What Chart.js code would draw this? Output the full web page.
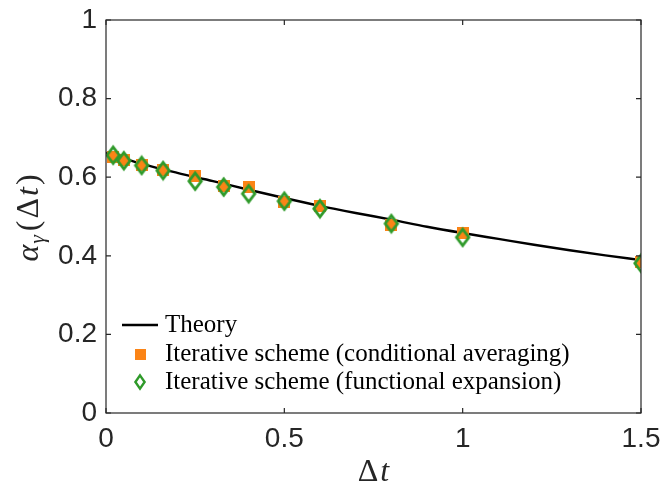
<!DOCTYPE html>
<html>
<head>
<meta charset="utf-8">
<script src="https://cdn.jsdelivr.net/npm/chart.js@4.4.1/dist/chart.umd.min.js"></script>
<style>
  html, body { margin: 0; padding: 0; background: #fff; }
  #wrap { width: 662px; height: 491px; }
</style>
</head>
<body>
<div id="wrap"><canvas id="grafico" width="662" height="491"></canvas></div>
<script>
// theory curve
const theoryX = [0, 0.1, 0.2, 0.3, 0.4, 0.5, 0.6, 0.7, 0.8, 0.9, 1.0, 1.1, 1.2, 1.3, 1.4, 1.5];
const theoryY = [0.662, 0.634, 0.611, 0.590, 0.568, 0.547, 0.527, 0.509, 0.492, 0.474, 0.458, 0.443, 0.428, 0.414, 0.401, 0.389];

// simulated points
const dtValues = [0.02, 0.05, 0.1, 0.16, 0.25, 0.33, 0.4, 0.5, 0.6, 0.8, 1.0, 1.5];
const condAveraging = [0.652, 0.643, 0.630, 0.618, 0.603, 0.577, 0.575, 0.536, 0.526, 0.479, 0.457, 0.383];
const funcExpansion = [0.656, 0.642, 0.630, 0.617, 0.590, 0.575, 0.558, 0.539, 0.520, 0.482, 0.447, 0.381];

const legendLabels = ['Theory', 'Iterative scheme (conditional averaging)', 'Iterative scheme (functional expansion)'];
const xTicks = [0, 0.5, 1, 1.5];
const yTicks = [0, 0.2, 0.4, 0.6, 0.8, 1];

const eixo = '#262626';
const laranja = '#fb8416';
const verde = '#2f9a2a';

function pares(xs, ys) {
    return xs.map((x, i) => ({ x: x, y: ys[i] }));
}

// marker images (matlab diamond is taller than wide)
function losango(w, h, cor, lw) {
    const c = document.createElement('canvas');
    c.width = w; c.height = h;
    const g = c.getContext('2d');
    g.strokeStyle = cor;
    g.lineWidth = lw;
    g.lineJoin = 'miter';
    const m = lw;
    g.beginPath();
    g.moveTo(w / 2, m);
    g.lineTo(w - m, h / 2);
    g.lineTo(w / 2, h - m);
    g.lineTo(m, h / 2);
    g.closePath();
    g.stroke();
    return c;
}
function quadrado(s, cor) {
    const c = document.createElement('canvas');
    c.width = s; c.height = s;
    const g = c.getContext('2d');
    g.fillStyle = cor;
    g.fillRect(0, 0, s, s);
    return c;
}
const marcaVerde = losango(18, 22, verde, 2.8);
const marcaLaranja = quadrado(12, laranja);
const legVerde = losango(14, 18, verde, 2.4);
const legLaranja = quadrado(11, laranja);

// box, inward ticks, titles, legend
const extras = {
    id: 'extras',
    afterDraw(chart) {
        const ctx = chart.ctx;
        const a = chart.chartArea;
        const sx = chart.scales.x, sy = chart.scales.y;
        ctx.save();
        ctx.strokeStyle = eixo;
        ctx.lineWidth = 1.2;
        ctx.strokeRect(a.left, a.top, a.right - a.left, a.bottom - a.top);
        ctx.beginPath();
        xTicks.forEach(v => {
            const px = sx.getPixelForValue(v);
            ctx.moveTo(px, a.bottom); ctx.lineTo(px, a.bottom - 5);
            ctx.moveTo(px, a.top); ctx.lineTo(px, a.top + 5);
        });
        yTicks.forEach(v => {
            const py = sy.getPixelForValue(v);
            ctx.moveTo(a.left, py); ctx.lineTo(a.left + 5, py);
            ctx.moveTo(a.right, py); ctx.lineTo(a.right - 5, py);
        });
        ctx.stroke();

        // x title: Δt
        ctx.fillStyle = eixo;
        ctx.textBaseline = 'alphabetic';
        ctx.textAlign = 'left';
        const cx = (a.left + a.right) / 2;
        ctx.font = '32px "Liberation Serif"';
        const wD = ctx.measureText('\u0394').width;
        ctx.font = 'italic 32px "Liberation Serif"';
        const wt = ctx.measureText('t').width;
        const x0 = cx - (wD + wt + 2) / 2;
        ctx.font = '32px "Liberation Serif"';
        ctx.fillText('\u0394', x0, 481);
        ctx.font = 'italic 32px "Liberation Serif"';
        ctx.fillText('t', x0 + wD + 2, 481);

        // y title: α_γ(Δt)
        ctx.save();
        ctx.translate(38, 218);
        ctx.rotate(-Math.PI / 2);
        const partes = [
            { t: '\u03b1', f: 'italic 32px "Liberation Serif"', dy: 0, gap: 1 },
            { t: '\u03b3', f: 'italic 22px "Liberation Serif"', dy: 6, gap: 4 },
            { t: '(', f: '32px "Liberation Serif"', dy: 0, gap: 2 },
            { t: '\u0394', f: '32px "Liberation Serif"', dy: 0, gap: 2 },
            { t: 't', f: 'italic 32px "Liberation Serif"', dy: 0, gap: 2 },
            { t: ')', f: '32px "Liberation Serif"', dy: 0, gap: 0 }
        ];
        let total = 0;
        partes.forEach(p => { ctx.font = p.f; p.w = ctx.measureText(p.t).width + p.gap; total += p.w; });
        let px = -total / 2;
        partes.forEach(p => { ctx.font = p.f; ctx.fillText(p.t, px, p.dy); px += p.w; });
        ctx.restore();

        // legend inside plot, bottom-left
        ctx.font = '25px "Liberation Serif"';
        ctx.textBaseline = 'middle';
        const linhas = [325, 354, 382];
        const xs = 122, xt = 165;
        ctx.fillStyle = '#000';
        ctx.fillText(legendLabels[0], xt, linhas[0]);
        ctx.strokeStyle = '#000';
        ctx.lineWidth = 2.4;
        ctx.beginPath(); ctx.moveTo(xs, linhas[0]); ctx.lineTo(xs + 36, linhas[0]); ctx.stroke();

        ctx.drawImage(legLaranja, xs + 13, linhas[1] - 5);
        ctx.fillText(legendLabels[1], xt, linhas[1]);

        ctx.drawImage(legVerde, xs + 11, linhas[2] - 9);
        ctx.fillText(legendLabels[2], xt, linhas[2]);
        ctx.restore();
    }
};

new Chart(document.getElementById('grafico').getContext('2d'), {
    type: 'scatter',
    data: {
        datasets: [
            {
                label: legendLabels[2],
                data: pares(dtValues, funcExpansion),
                pointStyle: marcaVerde,
                order: 1
            },
            {
                label: legendLabels[1],
                data: pares(dtValues, condAveraging),
                pointStyle: marcaLaranja,
                order: 2
            },
            {
                label: legendLabels[0],
                data: pares(theoryX, theoryY),
                showLine: true,
                borderColor: '#000',
                borderWidth: 2.4,
                pointRadius: 0,
                cubicInterpolationMode: 'monotone',
                order: 3
            }
        ]
    },
    options: {
        responsive: false,
        animation: false,
        layout: { padding: { top: 20, right: 21, left: 0, bottom: 0 } },
        plugins: {
            legend: { display: false },
            tooltip: { enabled: false }
        },
        scales: {
            x: {
                type: 'linear',
                min: 0, max: 1.5,
                afterFit: s => { s.height = 78; s.paddingLeft = 0; s.paddingRight = 0; },
                afterBuildTicks: s => { s.ticks = xTicks.map(v => ({ value: v })); },
                grid: { display: false, drawTicks: false },
                border: { display: false },
                ticks: {
                    padding: 9,
                    maxRotation: 0,
                    autoSkip: false,
                    color: eixo,
                    font: { family: '"Liberation Sans"', size: 28 },
                    callback: v => String(v)
                }
            },
            y: {
                type: 'linear',
                min: 0, max: 1,
                afterFit: s => { s.width = 106; s.paddingTop = 0; s.paddingBottom = 0; },
                afterBuildTicks: s => { s.ticks = yTicks.map(v => ({ value: v })); },
                grid: { display: false, drawTicks: false },
                border: { display: false },
                ticks: {
                    padding: 9,
                    autoSkip: false,
                    color: eixo,
                    font: { family: '"Liberation Sans"', size: 28 },
                    callback: v => String(v)
                }
            }
        }
    },
    plugins: [extras]
});
</script>
</body>
</html>
